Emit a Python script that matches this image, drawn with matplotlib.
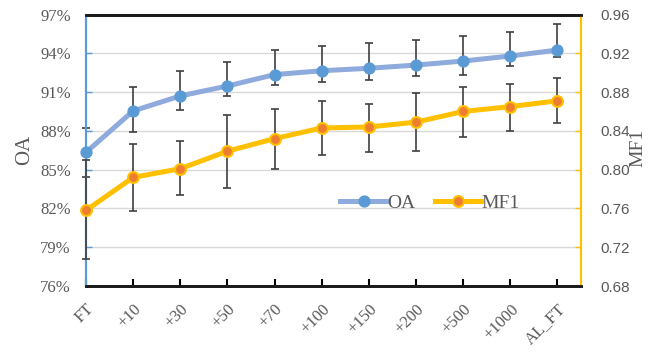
import numpy as np
import matplotlib
matplotlib.use('Agg')
import matplotlib.pyplot as plt
from matplotlib.ticker import FuncFormatter

categories = ['FT', '+10', '+30', '+50', '+70', '+100', '+150', '+200', '+500', '+1000', 'AL_FT']
oa = [86.34, 89.54, 90.70, 91.47, 92.35, 92.65, 92.84, 93.09, 93.40, 93.79, 94.25]
oa_hi = [88.22, 91.37, 92.63, 93.35, 94.25, 94.56, 94.77, 95.03, 95.36, 95.67, 96.24]
oa_lo = [84.43, 87.89, 89.61, 90.70, 91.55, 91.78, 91.93, 92.24, 92.30, 93.02, 93.69]
mf1 = [0.758, 0.792, 0.801, 0.819, 0.832, 0.843, 0.844, 0.849, 0.860, 0.865, 0.871]
mf1_hi = [0.810, 0.826, 0.830, 0.856, 0.863, 0.871, 0.868, 0.879, 0.885, 0.888, 0.894]
mf1_lo = [0.708, 0.757, 0.774, 0.781, 0.801, 0.815, 0.818, 0.819, 0.834, 0.840, 0.848]

serif = 'Liberation Serif'
gray = '#595959'
x = np.arange(len(categories))

fig = plt.figure(figsize=(6.59, 3.52), dpi=100)
ax = fig.add_axes([0.1305, 0.1875, 0.7511, 0.7713])
ax2 = ax.twinx()

# OA on left axis
oa_err = [np.array(oa) - np.array(oa_lo), np.array(oa_hi) - np.array(oa)]
ax.plot(x, oa, color='#8FAADC', lw=3.6, zorder=2, clip_on=False, solid_capstyle='round')
ax.errorbar(x, oa, yerr=oa_err, fmt='none', ecolor='#404040', elinewidth=1.2,
            capsize=3, capthick=1.2, zorder=3, clip_on=False)
ax.plot(x, oa, ls='none', marker='o', ms=7.8, mfc='#5B9BD5', mec='#5B9BD5', zorder=4, clip_on=False)

# MF1 on right axis
mf_err = [np.array(mf1) - np.array(mf1_lo), np.array(mf1_hi) - np.array(mf1)]
ax2.plot(x, mf1, color='#FFC000', lw=3.6, zorder=2, clip_on=False, solid_capstyle='round')
ax2.errorbar(x, mf1, yerr=mf_err, fmt='none', ecolor='#404040', elinewidth=1.2,
             capsize=3, capthick=1.2, zorder=3, clip_on=False)
ax2.plot(x, mf1, ls='none', marker='o', ms=7.8, mfc='#ED7D31', mec='#FFC000', mew=1.5,
         zorder=4, clip_on=False)

ax.set_xlim(0, len(categories) - 0.5)
ax.set_ylim(76, 97)
ax.set_yticks(np.arange(76, 98, 3))
ax.yaxis.set_major_formatter(FuncFormatter(lambda v, p: '%d%%' % v))
ax2.set_ylim(0.68, 0.96)
ax2.set_yticks(np.arange(0.68, 0.961, 0.04))
ax2.yaxis.set_major_formatter(FuncFormatter(lambda v, p: '%.2f' % v))

ax.grid(axis='y', color='#D9D9D9', lw=1)
ax.set_axisbelow(True)

ax.set_xticks(x)
ax.set_xticklabels(categories, rotation=45, ha='right', rotation_mode='anchor',
                   fontfamily=serif, fontsize=12, color=gray)
ax.tick_params(axis='x', direction='in', length=5, width=1.5, color='black', pad=11)
ax.tick_params(axis='y', direction='in', length=4, width=1, color='#5B9BD5',
               labelsize=12, labelcolor=gray, pad=11)
for lab in ax.get_yticklabels():
    lab.set_fontfamily(serif)
ax2.tick_params(axis='y', direction='in', length=4, width=1, color='#FFC000',
                labelsize=11, labelcolor=gray, pad=14)
for lab in ax2.get_yticklabels():
    lab.set_fontfamily('Liberation Sans')

for a in (ax, ax2):
    a.spines['top'].set_color('#1a1a1a')
    a.spines['top'].set_linewidth(2)
    a.spines['bottom'].set_color('#1a1a1a')
    a.spines['bottom'].set_linewidth(2)
    a.spines['left'].set_color('#5B9BD5')
    a.spines['left'].set_linewidth(1.5)
    a.spines['right'].set_color('#FFC000')
    a.spines['right'].set_linewidth(1.5)

ax.set_ylabel('OA', fontfamily=serif, fontsize=15, color=gray, labelpad=4)
ax2.set_ylabel('MF1', fontfamily=serif, fontsize=14, color=gray)
ax2.yaxis.set_label_coords(1.098, 0.51)

# legend
h1 = ax.plot([], [], color='#8FAADC', lw=3.6, marker='o', ms=7.8, mfc='#5B9BD5', mec='#5B9BD5')[0]
h2 = ax.plot([], [], color='#FFC000', lw=3.6, marker='o', ms=7.8, mfc='#ED7D31', mec='#FFC000', mew=1.5)[0]
leg = ax2.legend([h1, h2], ['OA', 'MF1'], loc='center', bbox_to_anchor=(0.695, 0.306),
                 ncol=2, frameon=False, handlelength=2.4, handletextpad=0.0,
                 columnspacing=1.0, prop={'family': serif, 'size': 14})
for t in leg.get_texts():
    t.set_color(gray)

fig.savefig('out.png', dpi=100)
